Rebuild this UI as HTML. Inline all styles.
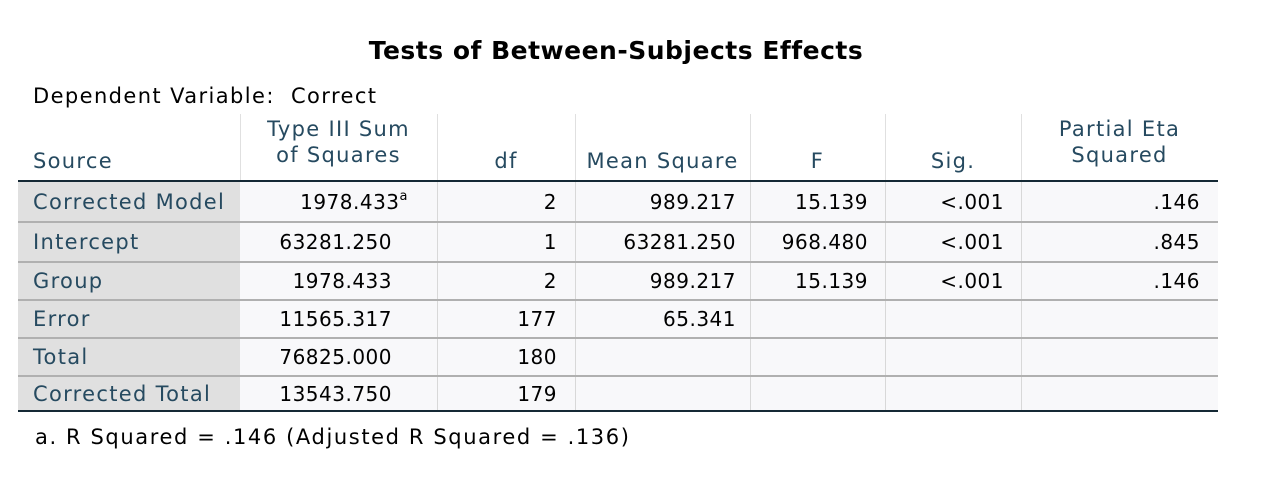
<!DOCTYPE html>
<html><head><meta charset="utf-8"><style>
body{margin:0;width:1268px;height:482px;background:#fff;position:relative;overflow:hidden;font-family:"DejaVu Sans","Liberation Sans",sans-serif;}
.a{position:absolute;white-space:nowrap;}
.t{font-size:20px;line-height:24px;}
.h{color:#264a60;}
.lbl{font-size:21px;letter-spacing:1.3px;}
.r{text-align:right;}
.c{text-align:center;}
</style></head><body>
<div class="a" style="left:0;width:1232px;top:36px;text-align:center;font-weight:bold;font-size:25px;letter-spacing:0.5px;">Tests of Between-Subjects Effects</div>
<div class="a t lbl" style="left:33px;top:84px;letter-spacing:1.4px;">Dependent Variable:&nbsp;&nbsp;Correct</div>
<div id="tbl"></div>
<div class="a t lbl" style="left:35px;top:425px;letter-spacing:1.6px;">a. R Squared = .146 (Adjusted R Squared = .136)</div>
<script>
const headers=["Source","Type III Sum\nof Squares","df","Mean Square","F","Sig.","Partial Eta\nSquared"];
const sources=["Corrected Model","Intercept","Group","Error","Total","Corrected Total"];
const ss=["1978.433","63281.250","1978.433","11565.317","76825.000","13543.750"];
const dfs=["2","1","2","177","180","179"];
const ms=["989.217","63281.250","989.217","65.341","",""];
const fv=["15.139","968.480","15.139","","",""];
const sig=["<.001","<.001","<.001","","",""];
const eta=[".146",".845",".146","","",""];
const cols=[18,240,437,575,750,885,1021,1218];
const rowTops=[182,222,262,300,338,376,412];
const tbl=document.body;
function div(l,t,w,h,bg,name){const d=document.createElement('div');d.className='a';d.style.cssText=`left:${l}px;top:${t}px;width:${w}px;height:${h}px;background:${bg}`;


tbl.appendChild(d);return d;}
for(let r=0;r<6;r++){
 div(cols[0],rowTops[r],cols[1]-cols[0],rowTops[r+1]-rowTops[r],'#e0e0e0','row-label-bg');
 div(cols[1],rowTops[r],cols[7]-cols[1],rowTops[r+1]-rowTops[r],'#f8f8fa','row-data-bg');
}
for(let i=1;i<7;i++){
 div(cols[i],114,1,68,'#e0e0e0','header-divider');
 if(i>1) div(cols[i],182,1,230,'#d8d8d8','column-divider');
}
for(let r=1;r<6;r++) div(cols[0],rowTops[r]-1,cols[7]-cols[0],2,'#b0b0b0','row-divider');
div(cols[0],180,cols[7]-cols[0],2,'#152935','header-rule');
div(cols[0],410,cols[7]-cols[0],2,'#152935','bottom-rule');
const hnames=['source-header','sum-of-squares-header','df-header','mean-square-header','f-header','sig-header','partial-eta-header'];
headers.forEach((h,i)=>{
 const d=document.createElement('div');d.className='a t h lbl '+(i==0?'':'c');
 const lines=h.split('\n');
 d.innerHTML=lines.join('<br>');
 d.style.lineHeight='26px';
 if(i==0){d.style.left='33px';}else{d.style.left=cols[i]+'px';d.style.width=(cols[i+1]-cols[i])+'px';}
 d.style.top=(lines.length==2?116:148)+'px';
 
 
 tbl.appendChild(d);
});
const pads=[0,45,18,14,17,17,18];
for(let r=0;r<6;r++){
 const vals=[sources[r],ss[r],dfs[r],ms[r],fv[r],sig[r],eta[r]];
 vals.forEach((v,i)=>{
  if(!v)return;
  const d=document.createElement('div');d.className='a t'+(i==0?' h lbl':' r');
  const top=rowTops[r]+(rowTops[r+1]-rowTops[r])/2-12;
  d.style.top=top+'px';
  if(i==0){d.style.left='33px';}else{d.style.left=cols[i]+'px';d.style.width=(cols[i+1]-cols[i]-pads[i])+'px';d.style.letterSpacing='0.5px';}
  d.textContent=v;
  if(i==1&&r==0){const s=document.createElement('sup');s.textContent='a';s.style.fontSize='13px';s.style.verticalAlign='9px';s.style.lineHeight='0';d.appendChild(s);d.style.width=(cols[2]-cols[1]-29)+'px';}
  
  
  tbl.appendChild(d);
 });
}
</script>
</body></html>
